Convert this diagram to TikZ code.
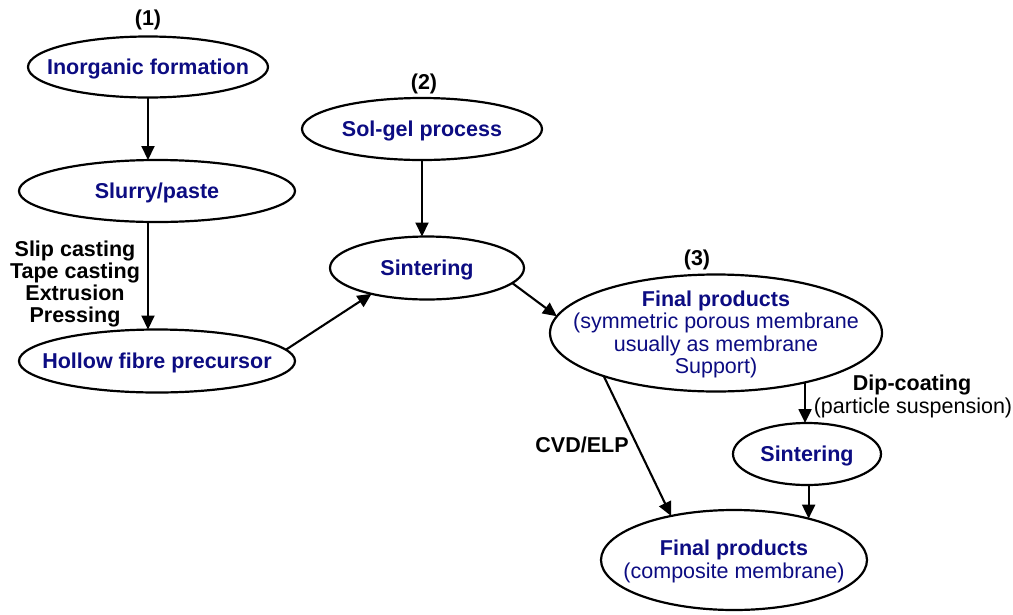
\documentclass[tikz,border=0pt]{standalone}
\usepackage{fontspec}
\setmainfont{Liberation Sans}
\usetikzlibrary{shapes.geometric,arrows.meta}
\definecolor{navyt}{RGB}{12,12,130}
\tikzset{
  ell/.style={ellipse, draw=black, line width=2.2pt, inner sep=0pt, outer sep=0pt, fill=white},
  etxt/.style={text=navyt, font=\fontsize{21.5}{22.5}\selectfont\bfseries, align=center, yshift=-1.5pt},
  lab/.style={text=black, font=\fontsize{21.5}{22.5}\selectfont\bfseries, align=center, inner sep=0pt},
  arr/.style={line width=2.1pt, -{Triangle[length=14pt,width=13pt]}}
}
\begin{document}
\begin{tikzpicture}[x=1pt,y=-1pt]
\useasboundingbox (0,0) rectangle (1013,614);
% ellipses
\node[ell, minimum width=240pt, minimum height=61pt,
  label={[etxt]center:Inorganic formation}] (inorg) at (148,67) {};
\node[ell, minimum width=276pt, minimum height=62pt,
  label={[etxt]center:Slurry/paste}] (slurry) at (157,191) {};
\node[ell, minimum width=276pt, minimum height=63pt,
  label={[etxt]center:Hollow fibre precursor}] (hollow) at (157,361) {};
\node[ell, minimum width=240pt, minimum height=62pt,
  label={[etxt]center:Sol-gel process}] (solgel) at (422,129) {};
\node[ell, minimum width=194pt, minimum height=63pt,
  label={[etxt]center:Sintering}] (sintA) at (427,268) {};
\node[ell, minimum width=332pt, minimum height=117pt,
  label={[etxt]center:{Final products\\\mdseries(symmetric porous membrane\\\mdseries usually as membrane\\\mdseries Support)}}] (final) at (716,333) {};
\node[ell, minimum width=148pt, minimum height=62pt,
  label={[etxt]center:Sintering}] (sintB) at (807,454) {};
\node[ell, minimum width=266pt, minimum height=100pt,
  label={[etxt]center:{Final products\\\mdseries(composite membrane)}}] (comp) at (734,560) {};
% labels
\node[lab] (l1) at (148,20) {(1)};
\node[lab] (l2) at (424,84) {(2)};
\node[lab] (l3) at (697,260) {(3)};
\node[lab, font=\fontsize{21.5}{22}\selectfont\bfseries] (methods) at (75,284) {Slip casting\\Tape casting\\Extrusion\\Pressing};
\node[lab] (cvd) at (582,445) {CVD/ELP};
\node[lab] (dip) at (912,385) {Dip-coating};
\node[lab, font=\fontsize{21.5}{22.5}\selectfont] (susp) at (913,408) {(particle suspension)};
% connectors
\draw[arr] (inorg.south) -- (inorg.south |- slurry.north);
\draw[arr] (inorg.south |- slurry.south) -- (inorg.south |- hollow.north);
\draw[arr] (solgel.south) -- (solgel.south |- sintA.north);
\draw[arr] (hollow.5) -- (sintA.205);
\draw[arr] (sintA.-10) -- (final.174);
\draw[arr] (final.-29) -- (final.-29 |- sintB.north);
\draw[arr] (final.201) -- (comp.145);
\draw[arr] (comp.29 |- sintB.south) -- (comp.29);
\end{tikzpicture}
\end{document}
